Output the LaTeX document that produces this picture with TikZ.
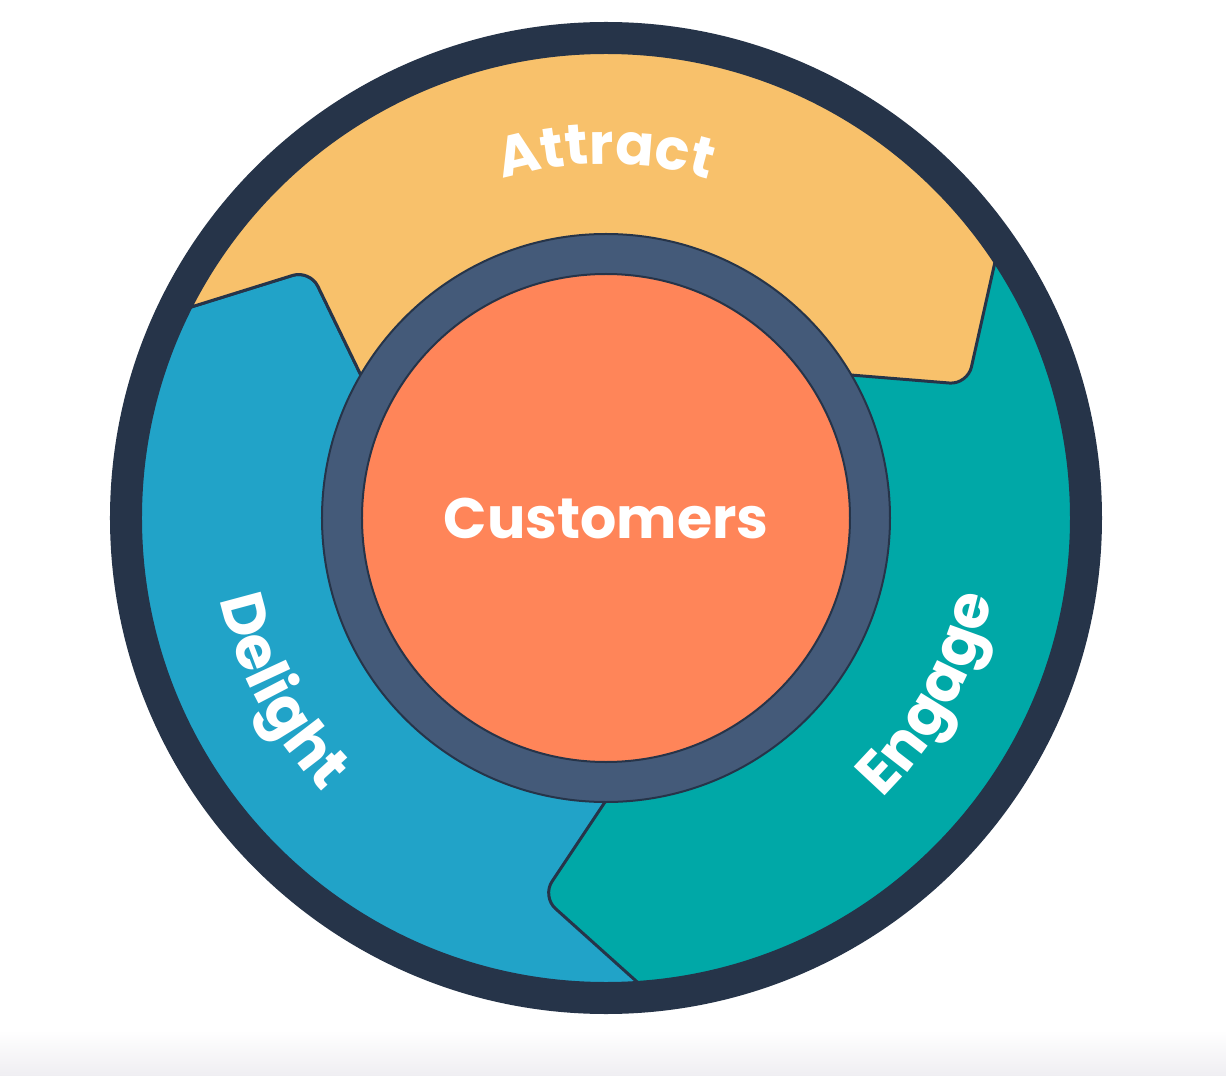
\documentclass[tikz,border=0pt]{standalone}
\usepackage{fontspec}
\setmainfont{Poppins}
\usetikzlibrary{decorations.text}
\definecolor{ringdark}{HTML}{263449}
\definecolor{attractY}{HTML}{F8C16B}
\definecolor{delightB}{HTML}{21A3C8}
\definecolor{engageT}{HTML}{00A8A7}
\definecolor{hubO}{HTML}{FF8559}
\definecolor{hubRing}{HTML}{445A79}
\definecolor{bandgray}{HTML}{EFEEF2}
\newcommand\attractfont{\fontsize{57}{57}\selectfont\bfseries}
\newcommand\sidefont{\fontsize{60}{60}\selectfont\bfseries}
\newcommand\custfont{\fontsize{57}{57}\selectfont\bfseries}
\begin{document}
\begin{tikzpicture}[x=1pt,y=1pt,
  segment/.style={draw=ringdark, line width=3, rounded corners=18, line join=round},
  curvelabel/.style={decorate, decoration={text along path, text align=center, text color=white}}]
\useasboundingbox (-606,-558) rectangle (620,518);
\fill[white] (-606,-558) rectangle (620,518);
\shade[top color=white, bottom color=bandgray] (-606,-512) rectangle (620,-558);
\coordinate (C) at (0,0);
% coloured annulus
\begin{scope}
  \clip (C) circle[radius=466];
  \fill[engageT] (C) circle[radius=470];
  % Delight (blue)
  \path[segment, fill=delightB] (-540,172) -- (-296,248) -- (-221,93) -- (0,0)
     -- (20,-252.5) -- (-64,-378.5) -- (88,-515) -- (-700,-700) -- (-700,172) -- cycle;
  % Attract (yellow)
  \path[segment, fill=attractY] (-540,172) -- (-296,248) -- (-221,93) -- (0,0)
     -- (220,145) -- (361.5,133.5) -- (404,323) -- (700,700) -- (-700,700) -- (-700,172) -- cycle;
\end{scope}
% hub
\node[circle, fill=hubRing, draw=ringdark, line width=2, minimum size=568, inner sep=0] (ring) at (C) {};
\node[circle, fill=hubO, draw=ringdark, line width=2, minimum size=488, inner sep=0, text=white] (hub) at (C) {\custfont Customers};
% outer rim
\node[circle, draw=ringdark, line width=32, minimum size=960, inner sep=0] (rim) at (C) {};
% curved labels
\path[curvelabel, decoration={text={|\attractfont|Attract}}] (130:354) arc[start angle=130, end angle=50, radius=354];
\path[curvelabel, decoration={text={|\sidefont|Delight}}] (160:394) arc[start angle=160, end angle=256, radius=394];
\path[curvelabel, decoration={text={|\sidefont|Engage}}] (283.5:394) arc[start angle=283.5, end angle=379.5, radius=394];
\end{tikzpicture}
\end{document}
